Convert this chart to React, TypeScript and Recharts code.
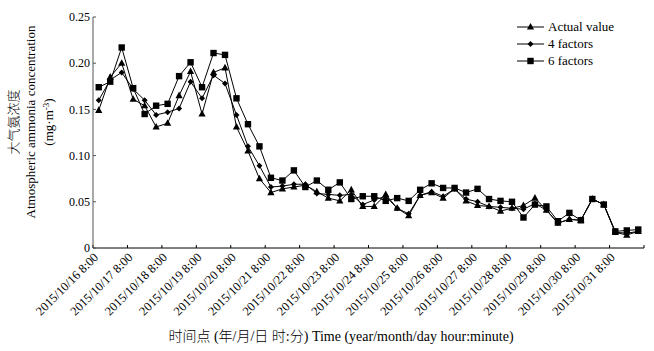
import React from "react"
import { LineChart, Line, XAxis, YAxis, Legend } from "recharts"

const dayLabels = [
  "2015/10/16 8:00", "2015/10/17 8:00", "2015/10/18 8:00", "2015/10/19 8:00",
  "2015/10/20 8:00", "2015/10/21 8:00", "2015/10/22 8:00", "2015/10/23 8:00",
  "2015/10/24 8:00", "2015/10/25 8:00", "2015/10/26 8:00", "2015/10/27 8:00",
  "2015/10/28 8:00", "2015/10/29 8:00", "2015/10/30 8:00", "2015/10/31 8:00",
]
// three readings a day, 8:00 / 16:00 / 24:00
const pointsPerDay = 3

const actualValue = [
  0.149, 0.185, 0.200, 0.161, 0.154, 0.131, 0.135, 0.165, 0.191, 0.145, 0.190, 0.195,
  0.131, 0.105, 0.075, 0.060, 0.064, 0.066, 0.068, 0.061, 0.054, 0.051, 0.063, 0.045,
  0.045, 0.058, 0.043, 0.035, 0.057, 0.060, 0.054, 0.064, 0.051, 0.046, 0.045, 0.040,
  0.043, 0.046, 0.054, 0.041, 0.027, 0.031, 0.030, 0.053, 0.047, 0.017, 0.014, 0.018,
]
const fourFactors = [
  0.160, 0.182, 0.190, 0.172, 0.160, 0.144, 0.147, 0.151, 0.180, 0.162, 0.187, 0.178,
  0.144, 0.110, 0.089, 0.066, 0.067, 0.069, 0.069, 0.059, 0.058, 0.057, 0.058, 0.047,
  0.052, 0.056, 0.043, 0.037, 0.057, 0.061, 0.056, 0.064, 0.053, 0.050, 0.045, 0.044,
  0.043, 0.042, 0.048, 0.041, 0.027, 0.031, 0.030, 0.053, 0.047, 0.017, 0.016, 0.018,
]
const sixFactors = [
  0.174, 0.180, 0.217, 0.173, 0.145, 0.154, 0.156, 0.186, 0.201, 0.174, 0.211, 0.209,
  0.162, 0.134, 0.110, 0.076, 0.073, 0.084, 0.066, 0.073, 0.063, 0.071, 0.053, 0.056,
  0.056, 0.051, 0.054, 0.051, 0.063, 0.070, 0.065, 0.065, 0.060, 0.064, 0.053, 0.051,
  0.050, 0.033, 0.047, 0.045, 0.029, 0.038, 0.030, 0.053, 0.047, 0.018, 0.019, 0.020,
]
const yTicks = [0, 0.05, 0.1, 0.15, 0.2, 0.25]

const data = actualValue.map((v, i) => ({
  x: i + 0.5,
  actual: v,
  four: fourFactors[i],
  six: sixFactors[i],
}))
const xTicks = Array.from({ length: dayLabels.length + 1 }, (_, i) => i * pointsPerDay)

const serif = '"Liberation Serif", "Times New Roman", serif'
const cjk = '"Liberation Serif", "Noto Sans CJK SC", serif'

const Triangle = ({ cx, cy }: any) =>
  cx == null ? null : (
    <path d={`M${cx},${cy - 4} L${cx + 3.6},${cy + 2.6} L${cx - 3.6},${cy + 2.6} Z`} fill="#000" />
  )
const Diamond = ({ cx, cy }: any) =>
  cx == null ? null : <path d={`M${cx},${cy - 3} L${cx + 3},${cy} L${cx},${cy + 3} L${cx - 3},${cy} Z`} fill="#000" />
const Square = ({ cx, cy }: any) =>
  cx == null ? null : <rect x={cx - 3.2} y={cy - 3.2} width={6.4} height={6.4} fill="#000" />

const XTick = ({ x, payload }: any) => {
  const label = dayLabels[payload.value / pointsPerDay]
  if (!label) return null
  const ax = x + 6
  const ay = 258
  return (
    <text x={ax} y={ay} transform={`rotate(-45 ${ax} ${ay})`} textAnchor="end" fontSize={12.5} fontFamily={serif} fill="#000">
      {label}
    </text>
  )
}

const YTitle = () => (
  <g fontFamily={cjk} fill="#000" fontSize={13} fontWeight={300}>
    <text x={18} y={122} transform="rotate(-90 18 122)" textAnchor="middle">大气氨浓度</text>
    <text x={35} y={122} transform="rotate(-90 35 122)" textAnchor="middle">Atmospheric ammonia concentration</text>
    <text x={53} y={122} transform="rotate(-90 53 122)" textAnchor="middle">
      (mg·m<tspan dy={-4} fontSize={9}>-3</tspan><tspan dy={4}>)</tspan>
    </text>
  </g>
)

const XTitle = () => (
  <text x={341} y={341} textAnchor="middle" fontFamily={cjk} fontSize={14} fontWeight={300} fill="#000">
    时间点 (年/月/日  时:分) Time (year/month/day hour:minute)
  </text>
)

const legendItems = [
  { name: "Actual value", Icon: Triangle },
  { name: "4 factors", Icon: Diamond },
  { name: "6 factors", Icon: Square },
]

const LegendBox = () => (
  <div style={{ fontFamily: serif, fontSize: 13, color: "#000" }}>
    {legendItems.map(({ name, Icon }) => (
      <div key={name} style={{ display: "flex", alignItems: "center", height: 17 }}>
        <svg width={30} height={12} style={{ marginRight: 2 }}>
          <line x1={1} y1={6} x2={28} y2={6} stroke="#000" strokeWidth={1} />
          <Icon cx={14.5} cy={6} />
        </svg>
        <span>{name}</span>
      </div>
    ))}
  </div>
)

export default function App() {
  return (
    <div style={{ position: "absolute", left: 0, top: 0, background: "#fff" }}>
      <LineChart width={654} height={351} data={data} margin={{ top: 17, right: 10, left: 0, bottom: 13 }}>
        <XAxis
          type="number"
          dataKey="x"
          domain={[0, 48]}
          ticks={xTicks}
          interval={0}
          height={90}
          tick={<XTick />}
          tickSize={-3}
          stroke="#000"
          label={<XTitle />}
        />
        <YAxis
          domain={[0, 0.25]}
          ticks={yTicks}
          width={93}
          tickSize={-3}
          tickMargin={6}
          stroke="#555"
          tick={{ fontSize: 12, fontFamily: serif, fill: "#000" }}
          tickFormatter={(v) => (v === 0 ? "0" : v.toFixed(2))}
          label={<YTitle />}
        />
        <Legend
          layout="vertical"
          verticalAlign="middle"
          align="center"
          content={<LegendBox />}
          wrapperStyle={{ top: 18, left: 516, width: 130 }}
        />
        <Line dataKey="actual" name="Actual value" stroke="#000" strokeWidth={1} dot={<Triangle />} activeDot={false} isAnimationActive={false} />
        <Line dataKey="four" name="4 factors" stroke="#000" strokeWidth={1} dot={<Diamond />} activeDot={false} isAnimationActive={false} />
        <Line dataKey="six" name="6 factors" stroke="#000" strokeWidth={1} dot={<Square />} activeDot={false} isAnimationActive={false} />
      </LineChart>
    </div>
  )
}
